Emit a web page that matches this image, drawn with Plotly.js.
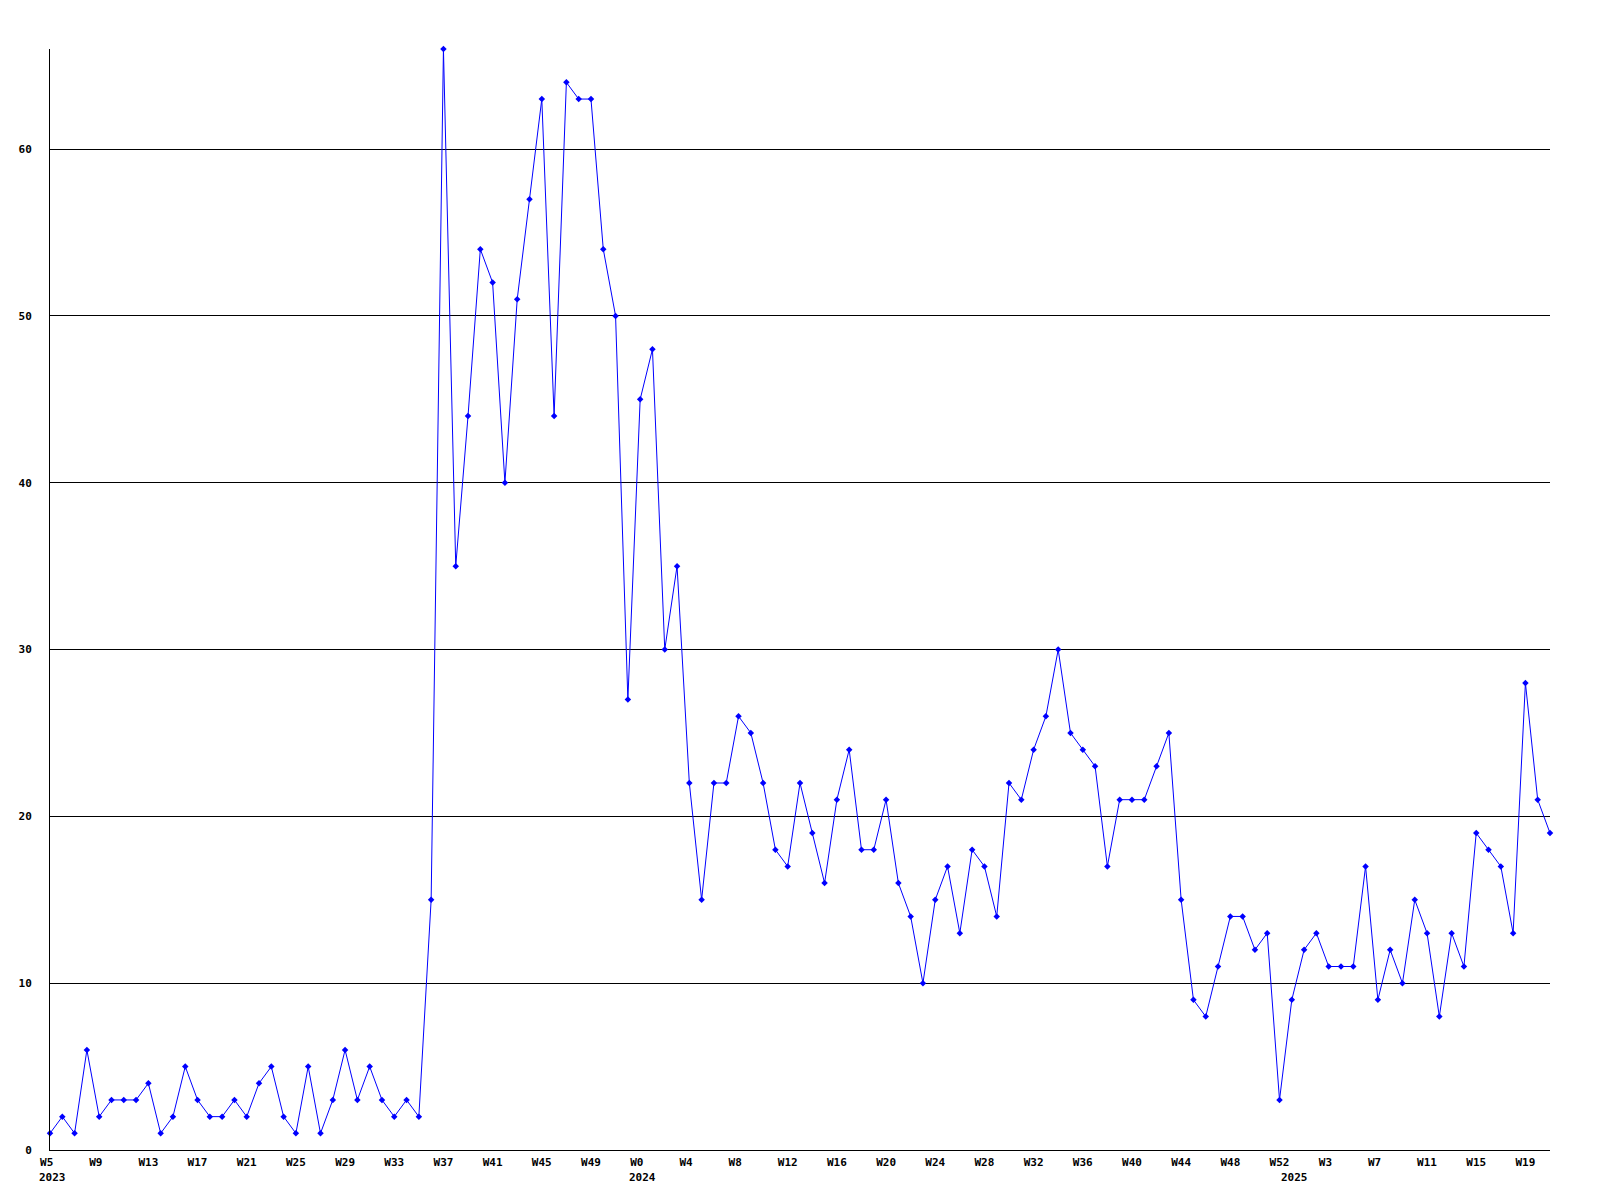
<!DOCTYPE html>
<html>
<head>
<meta charset="utf-8">
<script src="https://cdn.plot.ly/plotly-3.0.1.min.js"></script>
<style>
  html, body { margin: 0; padding: 0; background: #ffffff; }
  #chart { width: 1600px; height: 1200px; }
</style>
</head>
<body>
<div id="chart"></div>
<script>
// Week ranges per year (week numbers as labelled on the chart)
const yearSegments = [
  { year: 2023, firstWeek: 5, lastWeek: 52 },
  { year: 2024, firstWeek: 0, lastWeek: 52 },
  { year: 2025, firstWeek: 0, lastWeek: 21 }
];

// Weekly counts
const counts = [
  1, 2, 1, 6, 2, 3, 3, 3, 4, 1, 2, 5, 3, 2, 2, 3, 2, 4, 5, 2,
  1, 5, 1, 3, 6, 3, 5, 3, 2, 3, 2, 15, 66, 35, 44, 54, 52, 40, 51, 57,
  63, 44, 64, 63, 63, 54, 50, 27, 45, 48, 30, 35, 22, 15, 22, 22, 26, 25, 22, 18,
  17, 22, 19, 16, 21, 24, 18, 18, 21, 16, 14, 10, 15, 17, 13, 18, 17, 14, 22, 21,
  24, 26, 30, 25, 24, 23, 17, 21, 21, 21, 23, 25, 15, 9, 8, 11, 14, 14, 12, 13,
  3, 9, 12, 13, 11, 11, 11, 17, 9, 12, 10, 15, 13, 8, 13, 11, 19, 18, 17, 13,
  28, 21, 19
];

// Tick labels shown every fourth week
const tickLabels = [
  "W5", "W9", "W13", "W17", "W21", "W25", "W29", "W33", "W37", "W41", "W45", "W49",
  "W0", "W4", "W8", "W12", "W16", "W20", "W24", "W28", "W32", "W36", "W40", "W44", "W48", "W52",
  "W3", "W7", "W11", "W15", "W19"
];
const yTickVals = [0, 10, 20, 30, 40, 50, 60];

// Build week categories (year, week) in order
const weeks = [];
yearSegments.forEach(seg => {
  for (let w = seg.firstWeek; w <= seg.lastWeek; w++) weeks.push({ year: seg.year, week: w });
});
const xIdx = weeks.map((_, i) => i);
const tickVals = tickLabels.map((_, i) => i * 4);

const font = { family: 'DejaVu Sans Mono', size: 11, color: '#000000', weight: 'bold' };

// Year labels placed under the first week of each year (left-aligned like the tick labels)
const yearAnnotations = yearSegments.map(seg => {
  const idx = weeks.findIndex(w => w.year === seg.year && w.week === seg.firstWeek);
  return {
    x: idx, xref: 'x', y: 0, yref: 'paper',
    text: String(seg.year), showarrow: false,
    xanchor: 'left', yanchor: 'middle', xshift: -13, yshift: -27,
    font: font
  };
});

const trace = {
  x: xIdx,
  y: counts,
  type: 'scatter',
  mode: 'lines+markers',
  line: { color: '#0000ff', width: 1 },
  marker: { color: '#0000ff', symbol: 'diamond', size: 5 },
  cliponaxis: false,
  hoverinfo: 'skip'
};

const layout = {
  width: 1600,
  height: 1200,
  margin: { l: 50, r: 50, t: 49, b: 50, pad: 0 },
  paper_bgcolor: '#ffffff',
  plot_bgcolor: '#ffffff',
  showlegend: false,
  font: font,
  xaxis: {
    range: [0, weeks.length - 1],
    tickmode: 'array',
    tickvals: tickVals,
    // short labels are padded so every label starts at the same offset from its tick
    ticktext: tickLabels.map(t => t.length === 2 ? t + '\u00a0' : t),
    showgrid: false,
    zeroline: false,
    showline: true,
    linecolor: '#000000',
    linewidth: 1,
    ticks: '',
    tickangle: 0,
    tickfont: font,
    ticklabelstandoff: 2
  },
  yaxis: {
    range: [0, 66],
    tickmode: 'array',
    tickvals: yTickVals,
    ticktext: yTickVals.map(String),
    showgrid: true,
    gridcolor: '#000000',
    gridwidth: 1,
    zeroline: false,
    showline: true,
    linecolor: '#000000',
    linewidth: 1,
    ticks: '',
    tickfont: font,
    ticklabelstandoff: 15
  },
  annotations: yearAnnotations
};

Plotly.newPlot('chart', [trace], layout, { staticPlot: true, displayModeBar: false });
</script>
</body>
</html>
